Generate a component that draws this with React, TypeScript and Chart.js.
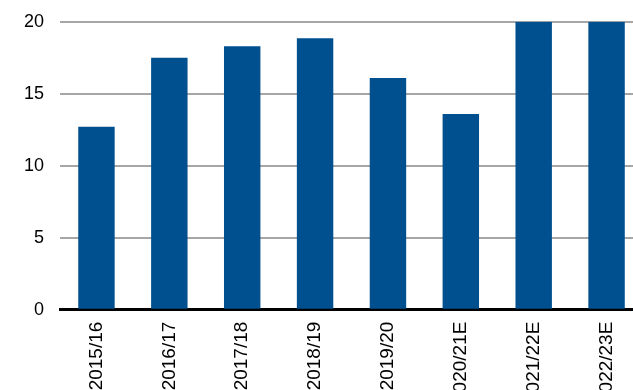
import React, { useEffect, useRef } from "react";
import { Chart, registerables } from "chart.js";

Chart.register(...registerables);

const categories = ["2015/16", "2016/17", "2017/18", "2018/19", "2019/20", "2020/21E", "2021/22E", "2022/23E"];
const values = [12.7, 17.5, 18.3, 18.85, 16.1, 13.6, 20, 20];
const yTicks = [0, 5, 10, 15, 20];

export default function App() {
  const ref = useRef<HTMLCanvasElement | null>(null);
  useEffect(() => {
    if (!ref.current) return;
    const chart = new Chart(ref.current, {
      type: "bar",
      data: {
        labels: categories,
        datasets: [
          {
            data: values,
            backgroundColor: "#00508f",
            barPercentage: 0.5,
            categoryPercentage: 1,
          },
        ],
      },
      options: {
        responsive: false,
        animation: false,
        layout: { padding: { left: 8, top: 7, right: 7, bottom: 0 } },
        plugins: { legend: { display: false }, tooltip: { enabled: false } },
        scales: {
          x: {
            grid: { display: false, drawTicks: false },
            border: { display: true, color: "#000", width: 3 },
            ticks: {
              color: "#000",
              font: { family: "'Liberation Sans', Arial, sans-serif", size: 19 },
              maxRotation: 90,
              minRotation: 90,
              padding: 12,
              autoSkip: false,
            },
          },
          y: {
            min: 0,
            max: 20,
            afterBuildTicks: (axis: any) => {
              axis.ticks = yTicks.map((v) => ({ value: v }));
            },
            grid: { color: "#a6a6a6", lineWidth: 2, drawTicks: false },
            border: { display: false },
            ticks: {
              color: "#000",
              font: { family: "'Liberation Sans', Arial, sans-serif", size: 18 },
              padding: 16,
            },
          },
        },
      },
    });
    return () => chart.destroy();
  }, []);
  return (
    <div style={{ position: "absolute", left: 0, top: -5, width: 650, height: 420 }}>
      <canvas ref={ref} width={650} height={420} />
    </div>
  );
}
